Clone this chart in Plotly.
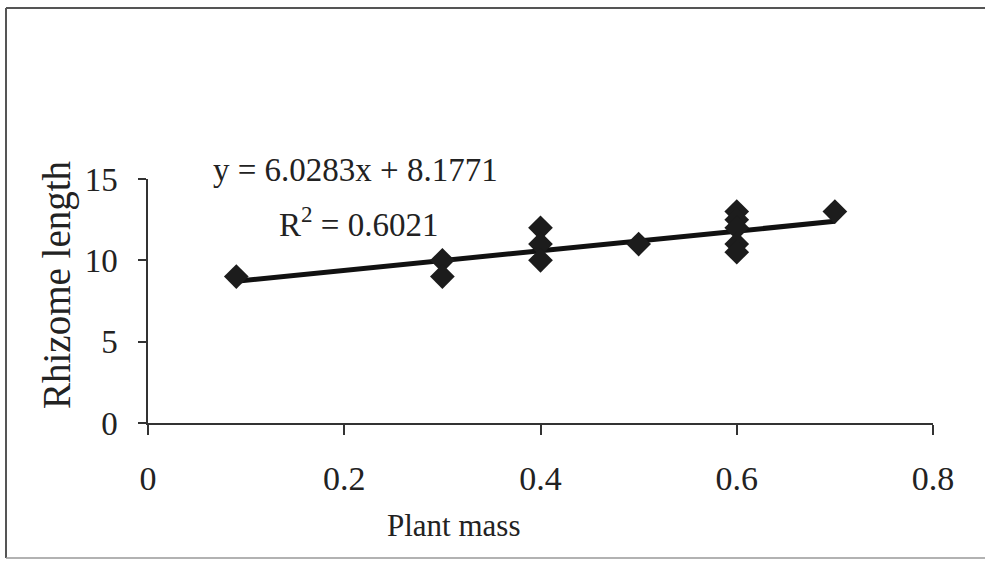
import plotly.graph_objects as go

# ---- data ----
plant_mass = [0.09, 0.3, 0.3, 0.4, 0.4, 0.4, 0.5, 0.6, 0.6, 0.6, 0.6, 0.6, 0.7]
rhizome_length = [9, 10, 9, 12, 11, 10, 11, 13, 12.5, 12, 11, 10.5, 13]
slope = 6.0283
intercept = 8.1771
r_squared = 0.6021
x_ticks = [0, 0.2, 0.4, 0.6, 0.8]
x_tick_labels = ["0", "0.2", "0.4", "0.6", "0.8"]
y_ticks = [0, 5, 10, 15]
y_tick_labels = ["0", "5", "10", "15"]

FONT = "Liberation Serif, Times New Roman, serif"
TXT = "#222222"

W, H = 985, 561
L, R, T, B = 148, 52, 179, 138
PW, PH = W - L - R, H - T - B


def px(xp):
    return (xp - L) / PW


def py(yp):
    return (H - B - yp) / PH


trend_x = [min(plant_mass), max(plant_mass)]
trend_y = [slope * v + intercept for v in trend_x]

fig = go.Figure()
fig.add_trace(go.Scatter(
    x=trend_x, y=trend_y, mode="lines",
    line=dict(color="#111111", width=5), showlegend=False, hoverinfo="skip"))
fig.add_trace(go.Scatter(
    x=plant_mass, y=rhizome_length, mode="markers",
    marker=dict(symbol="diamond", size=19, color="#1c1c1c", line=dict(width=0)),
    showlegend=False, cliponaxis=False))

border = dict(color="#555555", width=2)
fig.update_layout(
    width=W, height=H,
    margin=dict(l=L, r=R, t=T, b=B),
    paper_bgcolor="white", plot_bgcolor="white",
    font=dict(family=FONT, color=TXT),
    xaxis=dict(range=[0, 0.8], tickvals=x_ticks, ticktext=x_tick_labels,
               showgrid=False, zeroline=False, showline=True, linecolor="#333333",
               linewidth=1.5, ticks="outside", ticklen=10, tickwidth=1.5,
               tickcolor="#333333", tickfont=dict(size=34, family=FONT, color=TXT),
               ticklabelstandoff=14),
    yaxis=dict(range=[0, 15], tickvals=y_ticks, ticktext=y_tick_labels,
               showgrid=False, zeroline=False, showline=True, linecolor="#333333",
               linewidth=1.5, ticks="outside", ticklen=8, tickwidth=1.5,
               tickcolor="#333333", tickfont=dict(size=33, family=FONT, color=TXT),
               ticklabelstandoff=14),
    annotations=[
        dict(x=px(355), y=py(170), xref="paper", yref="paper", showarrow=False,
             text=f"y = {slope}x + {intercept}", font=dict(size=33, family=FONT, color=TXT),
             xanchor="center", yanchor="middle"),
        dict(x=px(358), y=py(222), xref="paper", yref="paper", showarrow=False,
             text=f"R<sup>2</sup> = {r_squared}", font=dict(size=33, family=FONT, color=TXT),
             xanchor="center", yanchor="middle"),
        dict(x=px(453), y=py(525), xref="paper", yref="paper", showarrow=False,
             text="Plant mass", font=dict(size=31, family=FONT, color=TXT),
             xanchor="center", yanchor="middle"),
        dict(x=px(57), y=py(285), xref="paper", yref="paper", showarrow=False,
             text="Rhizome length", textangle=-90, font=dict(size=39, family=FONT, color=TXT),
             xanchor="center", yanchor="middle"),
    ],
    shapes=[
        dict(type="line", xref="paper", yref="paper",
             x0=px(6), x1=px(985), y0=py(8), y1=py(8), line=border, layer="below"),
        dict(type="line", xref="paper", yref="paper",
             x0=px(6), x1=px(6), y0=py(8), y1=py(558), line=border, layer="below"),
        dict(type="line", xref="paper", yref="paper",
             x0=px(6), x1=px(985), y0=py(558), y1=py(558),
             line=dict(color="#999999", width=1.5), layer="below"),
    ],
)

fig.write_html(
    "out.html",
    post_script="document.body.style.margin='0';document.body.style.overflow='hidden';"
                "document.documentElement.style.overflow='hidden';",
    config={"displayModeBar": False})
